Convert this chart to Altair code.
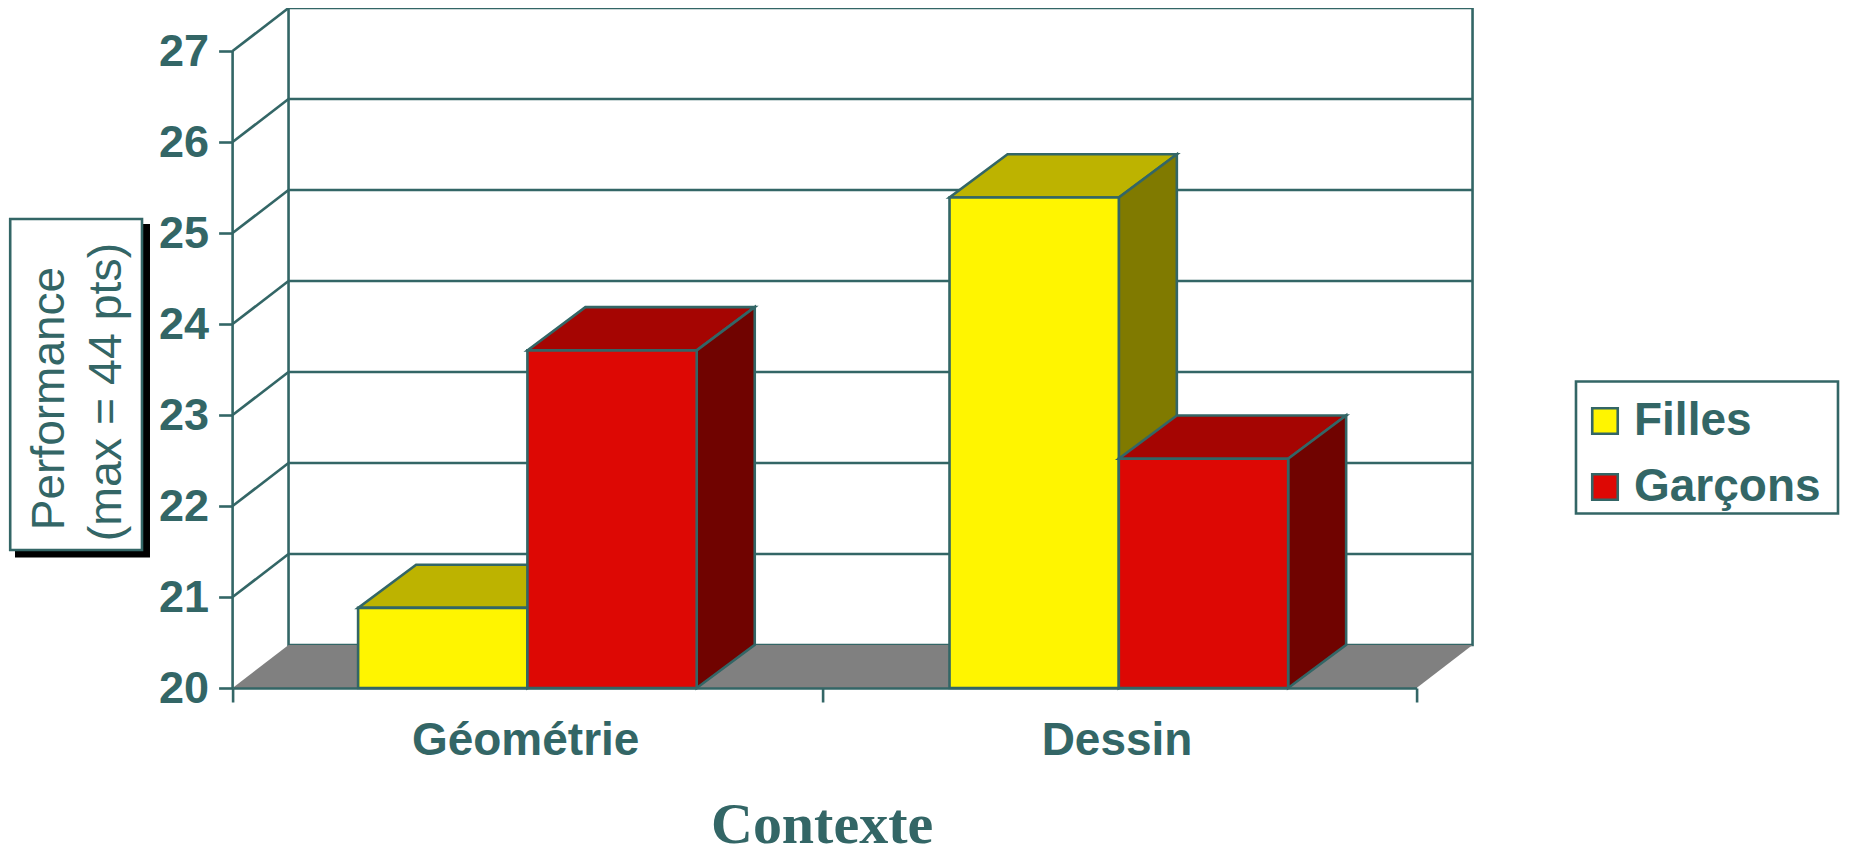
import altair as alt
import pandas as pd

categories = ["Géométrie", "Dessin"]
series = ["Filles", "Garçons"]
filles = [20.88, 25.39]
garcons = [23.71, 22.52]
y_ticks = [20, 21, 22, 23, 24, 25, 26, 27]
x_ticks = [0, 0.997, 2]
cat_pos = [0.498, 1.497]

TEAL = "#336666"
front = {"Filles": "#FFF500", "Garçons": "#DD0804"}
top_c = {"Filles": "#BDB300", "Garçons": "#A50502"}
side_c = {"Filles": "#807A00", "Garçons": "#700300"}
FLOOR = "#808080"
SW = 2.6

# geometry in data units
BAR_W = 0.286
W_DX, W_DY = 0.0945, 0.4725      # wall depth
B_DX, B_DY = 0.098, 0.475        # bar depth
Y0 = 20
YMAX = 27 + W_DY
PLOT_W, PLOT_H = 1184, 680
FONT = "Liberation Sans"

x_scale = alt.Scale(domain=[0, 2], nice=False, zero=False)
y_scale = alt.Scale(domain=[Y0, YMAX], nice=False, zero=False)
x_axis = alt.Axis(
    values=x_ticks, labels=False, grid=False, tickSize=14, tickColor=TEAL, tickWidth=SW,
    domainColor=TEAL, domainWidth=SW, title="Contexte", titleFont="Liberation Serif",
    titleFontWeight="bold", titleFontSize=58, titleColor=TEAL, titleX=589, titleY=138,
    titleBaseline="middle", titleAnchor="middle", titleAlign="center", zindex=1)
y_axis = alt.Axis(
    values=y_ticks, format="d", grid=False, domain=False, tickSize=14, tickColor=TEAL, tickWidth=SW,
    labelFont=FONT, labelFontWeight="bold", labelFontSize=45, labelColor=TEAL, labelPadding=10,
    labelOffset=1, title=None)
X = lambda f: alt.X(f, type="quantitative", scale=x_scale, axis=x_axis)
Y = lambda f: alt.Y(f, type="quantitative", scale=y_scale, axis=y_axis)

bars = []
for i, (f, g, c) in enumerate(zip(filles, garcons, cat_pos)):
    bars.append(dict(series="Filles", cat=i, x0=c - BAR_W, x1=c, v=f))
    bars.append(dict(series="Garçons", cat=i, x0=c, x1=c + BAR_W, v=g))
bars = pd.DataFrame(bars)

layers = []

# wall
wall = pd.DataFrame({"x": [W_DX], "x2": [2 + W_DX], "y": [Y0 + W_DY], "y2": [YMAX]})
layers.append(alt.Chart(wall).mark_rect(fill="white", stroke=TEAL, strokeWidth=SW).encode(
    x=X("x"), x2="x2", y=Y("y"), y2="y2"))

# floor
floor = pd.DataFrame({"y": [Y0, Y0 + W_DY], "x": [0, W_DX], "x2": [2, 2 + W_DX]})
layers.append(alt.Chart(floor).mark_area(orient="horizontal", fill=FLOOR, opacity=1).encode(
    x=X("x"), x2="x2", y=Y("y")))

# gridlines on the wall
grid = pd.DataFrame({"x": [W_DX] * 7, "x2": [2 + W_DX] * 7, "y": [v + W_DY for v in y_ticks[:-1]]})
layers.append(alt.Chart(grid[1:]).mark_rule(color=TEAL, strokeWidth=SW).encode(
    x=X("x"), x2="x2", y=Y("y")))

# diagonals from the axis
diag = pd.DataFrame([dict(t=v, x=dx, y=v + dy) for v in y_ticks[1:] for dx, dy in ((0, 0), (W_DX, W_DY))])
layers.append(alt.Chart(diag).mark_line(color=TEAL, strokeWidth=SW).encode(
    x=X("x"), y=Y("y"), detail="t:N"))

# left axis line
layers.append(alt.Chart(pd.DataFrame({"x": [0], "y": [Y0], "y2": [27]})).mark_rule(color=TEAL, strokeWidth=SW).encode(
    x=X("x"), y=Y("y"), y2="y2"))

fill_enc = alt.Fill("series:N", scale=alt.Scale(domain=series, range=[front[s] for s in series]),
    legend=alt.Legend(title=None, orient="none", legendX=1349.4, legendY=390, symbolType="square",
        symbolSize=650, symbolStrokeColor=TEAL, symbolStrokeWidth=SW, symbolOpacity=1,
        labelFont=FONT, labelFontWeight="bold", labelFontSize=46, labelColor=TEAL, labelOffset=6,
        rowPadding=20, padding=0, labelLimit=300))

# legend frame
layers.append(alt.Chart(pd.DataFrame({"a": [0]})).mark_rect(fill="white", stroke=TEAL, strokeWidth=SW).encode(
    x=alt.value(1576 - 232.6), x2=alt.value(1838 - 232.6), y=alt.value(381.5 - 8), y2=alt.value(513.5 - 8)))

for s in series:
    b = bars[bars.series == s]
    # top face
    top = pd.DataFrame([dict(cat=r.cat, y=r.v + dy, x=r.x0 + dx, x2=r.x1 + dx)
                        for r in b.itertuples() for dx, dy in ((0, 0), (B_DX, B_DY))])
    layers.append(alt.Chart(top).mark_area(orient="horizontal", fill=top_c[s], stroke=TEAL, strokeWidth=SW, opacity=1).encode(
        x=X("x"), x2="x2", y=Y("y"), detail="cat:N"))
    # side face
    side = pd.DataFrame([dict(cat=r.cat, x=r.x1 + dx, y=r.v + dy, y2=Y0 + dy)
                         for r in b.itertuples() for dx, dy in ((0, 0), (B_DX, B_DY))])
    layers.append(alt.Chart(side).mark_area(fill=side_c[s], stroke=TEAL, strokeWidth=SW, opacity=1).encode(
        x=X("x"), y=Y("y"), y2="y2", detail="cat:N"))
    # front face
    fr = b.assign(y0=Y0)
    layers.append(alt.Chart(fr).mark_rect(stroke=TEAL, strokeWidth=SW, opacity=1).encode(
        x=X("x0"), x2="x1", y=Y("v"), y2="y0", fill=fill_enc))

# category labels
labels = pd.DataFrame({"x": [p - 0.003 for p in cat_pos], "t": categories})
layers.append(alt.Chart(labels).mark_text(font=FONT, fontWeight="bold", fontSize=46, color=TEAL, baseline="middle").encode(
    x=X("x"), y=alt.value(733), text="t:N"))

# y title box
layers.append(alt.Chart(pd.DataFrame({"a": [0]})).mark_rect(fill="black").encode(
    x=alt.value(15 - 232.6), x2=alt.value(150 - 232.6), y=alt.value(224 - 8), y2=alt.value(557.6 - 8)))
layers.append(alt.Chart(pd.DataFrame({"a": [0]})).mark_rect(fill="white", stroke=TEAL, strokeWidth=SW).encode(
    x=alt.value(10.2 - 232.6), x2=alt.value(142 - 232.6), y=alt.value(219 - 8), y2=alt.value(550 - 8)))
layers.append(alt.Chart(pd.DataFrame({"t": ["Performance"]})).mark_text(font=FONT, fontSize=46, color=TEAL, angle=270, baseline="middle").encode(
    x=alt.value(50 - 232.6), y=alt.value(390.5), text="t:N"))
layers.append(alt.Chart(pd.DataFrame({"t": ["(max = 44 pts)"]})).mark_text(font=FONT, fontSize=46.5, color=TEAL, angle=270, baseline="middle").encode(
    x=alt.value(107 - 232.6), y=alt.value(384), text="t:N"))

chart = alt.layer(*layers).properties(
    width=PLOT_W, height=PLOT_H,
    padding={"left": 224.6, "top": 0, "right": 429, "bottom": 161},
    autosize=alt.AutoSizeParams(type="none"),
    background="white",
).configure_view(stroke=None)

chart.save("out.html", embed_options={"renderer": "svg", "actions": False})
